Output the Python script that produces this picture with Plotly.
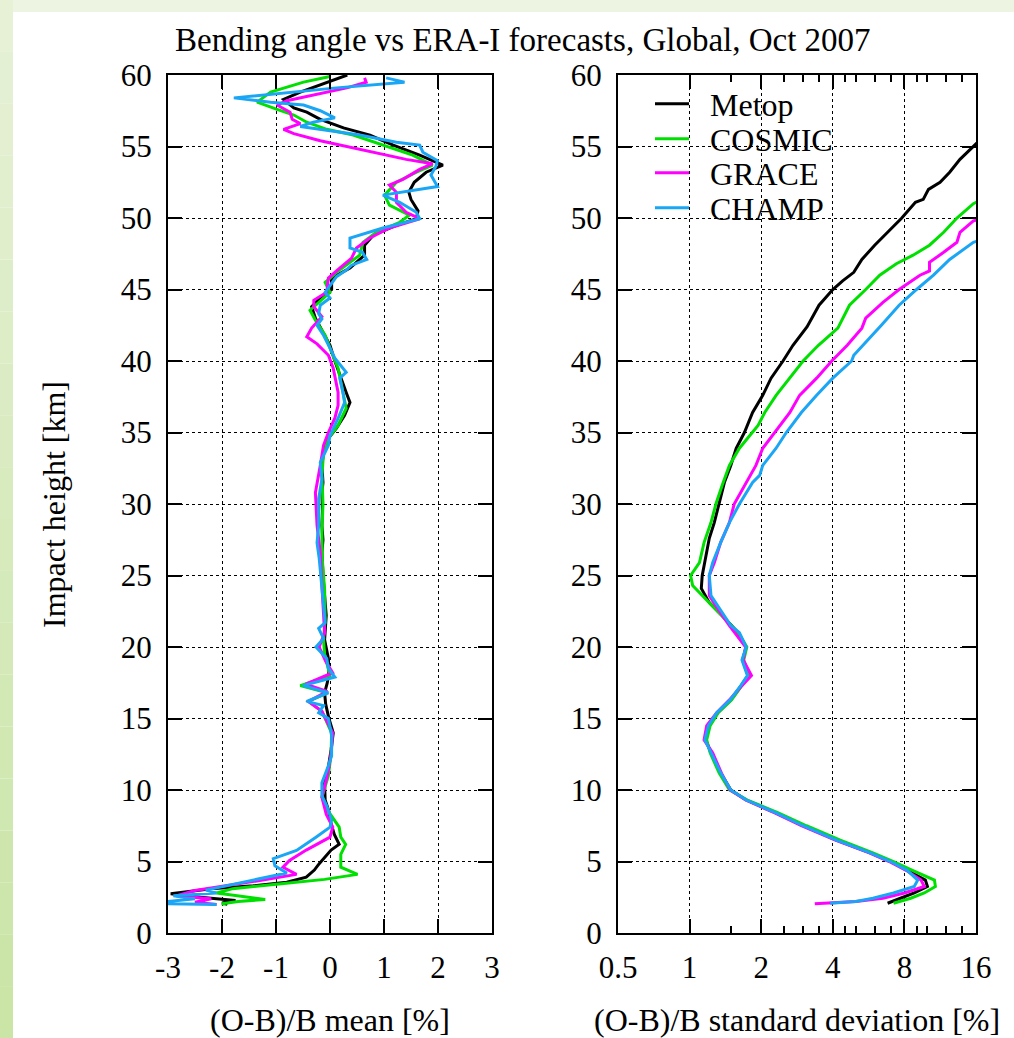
import math
import plotly.graph_objects as go

# ---------------- data ----------------
SERIES = ["Metop", "COSMIC", "GRACE", "CHAMP"]
COLORS = ["#000000", "#00e000", "#ff00ff", "#1aa6f5"]

# (O-B)/B mean [%]  -- heights [km] and values
METOP_MEAN_H = [60.0, 59.5, 58.8, 58.3, 57.7, 57.4, 56.9, 56.3, 55.8, 55.1, 54.4, 53.7, 53.2, 52.5, 51.8, 51.3,
                50.5, 49.95, 49.4, 48.8, 48.1, 47.4, 46.5, 45.8, 45.0, 44.4, 43.8, 43.0, 42.0, 41.1, 40.0, 39.0,
                37.8, 37.1, 36.2, 35.3, 34.6, 33.6, 32.7, 31.5, 30.8, 29.5, 28.5, 27.5, 26.6, 25.0, 23.5, 22.2,
                20.5, 19.2, 18.3, 17.5, 16.8, 16.0, 15.0, 14.0, 12.8, 11.6, 10.5, 9.3, 8.5, 7.9, 6.9, 6.2,
                5.8, 5.3, 4.85, 4.4, 3.9, 3.55, 3.3, 3.1, 2.75, 2.5, 2.27, 2.1, 2.0]
METOP_MEAN = [0.32, -0.06, -0.55, -0.86, -0.67, -0.43, -0.18, 0.25, 0.74, 1.17, 1.66, 2.09, 1.78, 1.56, 1.46, 1.5,
              1.63, 1.6, 1.17, 0.8, 0.64, 0.64, 0.37, 0.03, 0.03, -0.18, -0.34, -0.27, -0.12, 0.0, 0.09, 0.18,
              0.30, 0.37, 0.27, 0.12, -0.03, -0.12, -0.15, -0.13, -0.15, -0.14, -0.15, -0.13, -0.15, -0.13, -0.1, -0.07,
              -0.1, -0.03, -0.02, -0.05, -0.1, -0.08, -0.02, 0.06, 0.02, -0.03, -0.1, -0.09, -0.02, 0.0, 0.08, 0.17,
              0.02, -0.1, -0.2, -0.29, -0.44, -0.8, -1.42, -2.2, -2.95, -2.4, -1.75, -2.0, -1.9]

COSMIC_MEAN_H = [59.9, 59.5, 58.8, 58.1, 57.6, 57.2, 56.7, 56.2, 55.8, 55.1, 54.4, 53.7, 53.2, 52.5, 51.6, 50.9,
                 50.2, 49.7, 49.0, 48.3, 47.4, 46.2, 45.5, 44.8, 44.1, 43.55, 42.85, 41.8, 40.6, 39.5, 37.8, 36.7,
                 35.5, 34.6, 33.5, 32.0, 30.0, 28.0, 26.0, 24.0, 22.0, 20.5, 19.5, 18.0, 17.3, 16.8, 16.2, 15.5,
                 14.0, 12.5, 11.0, 9.5, 8.5, 7.9, 7.4, 6.7, 6.2, 5.5, 4.6, 4.1, 3.75, 3.45, 3.1, 2.8,
                 2.55, 2.35, 2.2, 2.05, 2.0]
COSMIC_MEAN = [0.0, -0.49, -1.1, -1.35, -0.98, -0.67, -0.43, -0.06, 0.43, 0.98, 1.53, 1.9, 1.6, 1.23, 1.01, 1.1,
               1.47, 1.29, 0.86, 0.61, 0.55, 0.12, -0.09, 0.0, -0.21, -0.37, -0.27, -0.09, 0.03, 0.15, 0.24, 0.30,
               0.15, -0.03, -0.12, -0.15, -0.13, -0.15, -0.14, -0.1, -0.09, -0.12, -0.1, 0.0, -0.55, -0.05, -0.4, -0.15,
               0.03, 0.02, -0.03, -0.15, -0.03, 0.08, 0.17, 0.2, 0.29, 0.2, 0.2, 0.51, -0.1, -0.9, -1.8, -2.1,
               -1.6, -1.2, -1.7, -2.0, -1.95]

GRACE_MEAN_H = [59.8, 59.5, 59.1, 58.7, 58.2, 57.9, 57.4, 56.9, 56.6, 56.2, 55.9, 55.4, 55.0, 54.5, 54.1, 53.8,
                53.4, 52.7, 52.3, 51.8, 51.1, 50.4, 49.95, 49.3, 48.6, 47.9, 47.2, 46.5, 45.8, 44.8, 44.25, 43.8,
                43.1, 42.3, 41.7, 41.2, 40.4, 39.5, 37.8, 36.9, 36.0, 35.0, 34.1, 32.7, 30.8, 28.5, 26.6, 25.0,
                23.0, 21.0, 20.0, 19.0, 18.2, 17.4, 16.9, 16.2, 15.5, 14.0, 12.5, 11.0, 9.5, 8.3, 7.4, 6.7,
                5.8, 5.07, 4.6, 4.1, 3.67, 3.3, 2.97, 2.6, 2.4, 2.15, 2.0]
GRACE_MEAN = [0.64, 0.67, 0.31, -0.18, -0.8, -0.98, -0.74, -0.7, -0.55, -0.86, -0.67, -0.18, 0.31, 0.92, 1.41, 1.9,
              1.66, 1.35, 1.1, 1.23, 1.23, 1.41, 1.66, 1.1, 0.74, 0.49, 0.4, 0.18, -0.03, -0.06, -0.3, -0.3,
              -0.15, -0.34, -0.43, -0.24, -0.03, 0.06, 0.15, 0.15, 0.09, -0.03, -0.12, -0.18, -0.27, -0.24, -0.18, -0.16,
              -0.13, -0.1, -0.2, -0.08, 0.05, -0.45, -0.05, -0.4, -0.15, 0.05, 0.02, -0.05, -0.15, -0.07, 0.05, 0.0,
              -0.44, -0.75, -0.87, -0.62, -1.3, -1.9, -2.5, -2.85, -2.2, -2.5, -2.1]

CHAMP_MEAN_H = [59.8, 59.5, 59.1, 58.7, 58.4, 58.1, 57.9, 57.5, 57.0, 56.7, 56.4, 56.1, 55.8, 55.3, 55.1, 54.6,
                54.0, 53.6, 53.0, 52.2, 51.6, 51.1, 50.4, 49.95, 49.3, 48.6, 47.9, 47.6, 47.1, 46.7, 46.35, 45.9,
                45.3, 44.8, 44.4, 43.9, 43.3, 42.95, 42.5, 41.8, 40.9, 40.2, 39.2, 38.8, 37.8, 37.1, 36.0, 34.8,
                34.1, 32.9, 31.75, 30.35, 28.5, 27.3, 26.2, 25.0, 23.4, 21.7, 21.3, 20.6, 20.0, 19.6, 19.2, 18.5,
                17.9, 17.3, 16.8, 16.2, 15.9, 15.4, 15.0, 13.8, 12.4, 11.7, 10.5, 9.6, 8.9, 7.9, 7.4, 6.7,
                5.77, 5.2, 4.7, 4.2, 3.3, 3.0, 2.8, 2.6, 2.4, 2.2, 2.05, 2.0]
CHAMP_MEAN = [1.04, 1.38, 0.12, -0.98, -1.78, -1.1, -0.49, -0.18, 0.09, -0.31, -0.55, 0.0, 0.55, 1.23, 1.66, 1.72,
              1.99, 1.96, 1.87, 1.99, 0.98, 1.29, 1.6, 1.66, 0.98, 0.37, 0.37, 0.6, 0.68, 0.4, 0.3, 0.12,
              0.0, -0.09, 0.0, -0.18, -0.21, -0.15, -0.24, -0.12, 0.0, 0.09, 0.3, 0.18, 0.24, 0.27, 0.15, 0.0,
              -0.03, -0.18, -0.15, -0.21, -0.21, -0.24, -0.2, -0.17, -0.13, -0.09, -0.21, -0.12, -0.26, -0.15, -0.06, -0.03,
              0.09, -0.5, -0.03, -0.43, -0.12, -0.21, -0.03, 0.03, 0.03, -0.03, -0.15, -0.15, -0.06, 0.03, 0.0, -0.26,
              -0.62, -1.05, -1.02, -0.8, -1.9, -2.3, -2.1, -2.9, -2.5, -3.0, -3.0, -2.1]

# (O-B)/B standard deviation [%]
METOP_STD_H = [55.6, 55.0, 54.1, 53.2, 52.5, 52.0, 51.3, 51.1, 50.0, 49.0, 48.1, 47.1, 46.2, 45.6, 45.0, 43.9,
               42.4, 41.1, 40.0, 38.8, 37.6, 36.4, 35.0, 33.9, 32.7, 31.5, 30.0, 28.7, 27.6, 26.4, 25.0, 24.1,
               23.1, 22.2, 21.0, 20.0, 19.1, 18.0, 17.3, 16.3, 15.4, 14.5, 13.5, 12.6, 11.2, 10.0, 9.3, 8.4,
               7.5, 6.5, 5.6, 5.0, 4.4, 3.7, 3.25, 2.8, 2.43, 2.08]
METOP_STD = [17.0, 15.6, 13.7, 12.4, 11.3, 10.1, 9.6, 8.9, 7.8, 6.8, 6.0, 5.3, 4.9, 4.4, 4.0, 3.5,
             3.12, 2.72, 2.47, 2.2, 2.03, 1.84, 1.7, 1.57, 1.49, 1.4, 1.33, 1.27, 1.21, 1.17, 1.13, 1.12,
             1.21, 1.37, 1.6, 1.73, 1.67, 1.76, 1.65, 1.49, 1.31, 1.21, 1.17, 1.23, 1.35, 1.49, 1.73, 2.31,
             3.0, 4.15, 5.75, 7.0, 8.2, 9.8, 10.0, 8.8, 7.7, 6.8]

COSMIC_STD_H = [51.3, 51.0, 50.0, 49.0, 48.1, 47.4, 46.8, 46.0, 45.0, 43.9, 42.3, 41.1, 40.0, 38.8, 37.6, 36.4,
                35.5, 33.9, 32.7, 31.3, 30.0, 28.7, 27.3, 25.9, 25.0, 24.3, 23.6, 22.7, 21.75, 21.0, 20.0, 19.1,
                18.0, 17.3, 16.3, 15.4, 14.5, 13.5, 12.6, 11.2, 10.0, 9.3, 8.4, 7.5, 6.5, 5.6, 5.0, 4.4,
                3.7, 3.25, 2.8, 2.43, 2.08]
COSMIC_STD = [17.0, 15.6, 13.3, 11.7, 10.2, 8.7, 7.4, 6.3, 5.5, 4.7, 4.2, 3.48, 3.0, 2.64, 2.31, 2.07,
              1.94, 1.62, 1.47, 1.37, 1.29, 1.23, 1.15, 1.1, 1.01, 1.03, 1.13, 1.27, 1.44, 1.6, 1.74, 1.69,
              1.78, 1.66, 1.5, 1.32, 1.22, 1.18, 1.22, 1.33, 1.47, 1.75, 2.36, 3.1, 4.3, 5.9, 7.2, 8.6,
              10.7, 10.8, 9.7, 8.5, 7.2]

GRACE_STD_H = [49.9, 49.8, 49.0, 48.3, 47.6, 46.9, 46.3, 46.0, 45.0, 44.1, 43.0, 42.3, 41.1, 40.0, 38.8, 37.6,
               36.4, 35.0, 33.9, 32.7, 31.5, 30.0, 28.7, 27.3, 25.9, 25.0, 23.6, 22.7, 21.5, 20.6, 20.0, 19.1,
               18.3, 18.0, 17.3, 16.3, 15.4, 14.5, 13.5, 12.6, 11.2, 10.0, 9.3, 8.4, 7.5, 6.5, 5.6, 5.0,
               4.4, 3.7, 3.25, 2.8, 2.43, 2.2, 2.05]
GRACE_STD = [16.5, 15.6, 13.7, 13.3, 11.7, 10.2, 10.2, 9.3, 7.6, 6.5, 5.5, 5.3, 4.6, 3.96, 3.42, 2.9,
             2.64, 2.28, 2.03, 1.9, 1.73, 1.54, 1.47, 1.35, 1.27, 1.21, 1.21, 1.31, 1.47, 1.62, 1.72, 1.68,
             1.78, 1.82, 1.66, 1.47, 1.3, 1.18, 1.15, 1.25, 1.36, 1.48, 1.72, 2.28, 2.95, 4.1, 5.7, 6.9,
             8.1, 9.4, 9.7, 8.0, 6.5, 5.0, 3.36]

CHAMP_STD_H = [48.4, 48.3, 47.1, 46.0, 45.0, 43.9, 42.5, 41.3, 40.4, 40.0, 38.8, 37.6, 36.4, 35.0, 33.9, 32.7,
               32.0, 31.5, 30.0, 28.7, 27.3, 25.9, 25.0, 23.6, 22.45, 21.5, 21.0, 20.0, 19.1, 18.0, 17.3, 16.3,
               15.4, 14.5, 13.5, 12.6, 11.2, 10.0, 9.3, 8.4, 7.5, 6.5, 5.6, 5.0, 4.4, 3.7, 3.25, 2.8,
               2.43, 2.2, 2.08]
CHAMP_STD = [16.3, 15.6, 12.4, 10.6, 9.0, 7.6, 6.4, 5.5, 4.9, 4.8, 4.0, 3.42, 2.95, 2.55, 2.31, 2.03,
             1.97, 1.84, 1.62, 1.47, 1.35, 1.25, 1.21, 1.23, 1.37, 1.49, 1.62, 1.73, 1.66, 1.75, 1.64, 1.48,
             1.3, 1.2, 1.16, 1.23, 1.35, 1.49, 1.73, 2.31, 3.0, 4.15, 5.75, 7.0, 8.2, 9.1, 8.8, 7.2,
             5.9, 5.0, 3.9]

MEAN_TICKS = [-3, -2, -1, 0, 1, 2, 3]
MEAN_TICK_TEXT = ["-3", "-2", "-1", "0", "1", "2", "3"]
STD_TICKS = [0.5, 1, 2, 4, 8, 16]
STD_TICK_TEXT = ["0.5", "1", "2", "4", "8", "16"]
STD_MINOR = [1.5, 2.5, 3, 3.5, 4.5, 5, 6, 7, 9, 10, 12, 14]
HEIGHT_TICKS = list(range(0, 61, 5))

TITLE = "Bending angle vs ERA-I forecasts, Global, Oct 2007"
XTITLE_L = "(O-B)/B mean [%]"
XTITLE_R = "(O-B)/B standard deviation [%]"
YTITLE = "Impact height [km]"

# ---------------- figure ----------------
W, H = 1014, 1038
FONT = "Liberation Serif"
TICK_SIZE = 31
TEXT_SIZE = 32
TITLE_SIZE = 33

def px(x):
    return x / W

def py(y):
    return 1 - y / H

mean_data = [(METOP_MEAN, METOP_MEAN_H), (COSMIC_MEAN, COSMIC_MEAN_H),
             (GRACE_MEAN, GRACE_MEAN_H), (CHAMP_MEAN, CHAMP_MEAN_H)]
std_data = [(METOP_STD, METOP_STD_H), (COSMIC_STD, COSMIC_STD_H),
            (GRACE_STD, GRACE_STD_H), (CHAMP_STD, CHAMP_STD_H)]
legend_ids = ["legend", "legend2", "legend3", "legend4"]
legend_y = [104, 139, 173, 208]

fig = go.Figure()
for name, col, (xv, hv) in zip(SERIES, COLORS, mean_data):
    fig.add_trace(go.Scatter(x=xv, y=hv, mode="lines", name=name, showlegend=False,
                             line=dict(color=col, width=3), xaxis="x", yaxis="y"))
for name, col, (xv, hv), lid in zip(SERIES, COLORS, std_data, legend_ids):
    fig.add_trace(go.Scatter(x=xv, y=hv, mode="lines", name="\u00a0\u00a0" + name, showlegend=True,
                             legend=lid, line=dict(color=col, width=3), xaxis="x2", yaxis="y2"))

axis_common = dict(
    showline=True, linewidth=2, linecolor="black", mirror="ticks",
    ticks="inside", ticklen=14, tickwidth=2, tickcolor="black",
    showgrid=True, gridcolor="black", gridwidth=1, griddash="3px,3px",
    zeroline=False, tickfont=dict(family=FONT, size=TICK_SIZE, color="black"),
    automargin=False,
)

YDOM = [py(933), py(75)]
layout = dict(
    width=W, height=H, autosize=False,
    margin=dict(l=0, r=0, t=0, b=0),
    paper_bgcolor="white", plot_bgcolor="white",
    font=dict(family=FONT, size=TEXT_SIZE, color="black"),
    xaxis=dict(domain=[px(168), px(492)], range=[-3, 3], tickmode="array",
               tickvals=MEAN_TICKS, ticktext=MEAN_TICK_TEXT, anchor="y",
               ticklabelstandoff=6, **axis_common),
    yaxis=dict(domain=YDOM, range=[0, 60], tickmode="array", tickvals=HEIGHT_TICKS,
               anchor="x", ticklabelstandoff=8, **axis_common),
    xaxis2=dict(domain=[px(618), px(976)], type="log",
                range=[math.log10(0.5), math.log10(16)], tickmode="array",
                tickvals=STD_TICKS, ticktext=STD_TICK_TEXT, anchor="y2",
                ticklabelstandoff=6,
                minor=dict(tickmode="array", tickvals=STD_MINOR, ticks="inside",
                           ticklen=7, tickwidth=2, tickcolor="black", showgrid=False),
                **axis_common),
    yaxis2=dict(domain=YDOM, range=[0, 60], tickmode="array", tickvals=HEIGHT_TICKS,
                anchor="x2", ticklabelstandoff=8, **axis_common),
    showlegend=True,
)
for lid, ly in zip(legend_ids, legend_y):
    layout[lid] = dict(x=px(650), y=py(ly), xanchor="left", yanchor="middle",
                       bgcolor="rgba(0,0,0,0)", borderwidth=0, itemwidth=34,
                       font=dict(family=FONT, size=TEXT_SIZE, color="black"))
fig.update_layout(**layout)

# white patch behind legend (covers grid, below traces)
fig.add_shape(type="rect", xref="paper", yref="paper", layer="between",
              x0=px(621), x1=px(836), y0=py(224), y1=py(77),
              fillcolor="white", line=dict(width=0))

# decorative green page border
fig.add_shape(type="rect", xref="paper", yref="paper", layer="below",
              x0=0, x1=1, y0=py(12), y1=1, fillcolor="rgb(237,245,226)", line=dict(width=0))
nstrip = 20
for i in range(nstrip):
    t = i / (nstrip - 1)
    r = int(230 - 28 * t)
    g = int(241 - 12 * t)
    b = int(214 - 48 * t)
    fig.add_shape(type="rect", xref="paper", yref="paper", layer="below",
                  x0=0, x1=px(13), y0=py(H * (i + 1) / nstrip), y1=py(H * i / nstrip),
                  fillcolor=f"rgb({r},{g},{b})", line=dict(width=0))

annots = [
    dict(text=TITLE, x=px(523), y=py(40), textangle=0, size=TITLE_SIZE),
    dict(text=XTITLE_L, x=px(330), y=py(1020), textangle=0, size=TEXT_SIZE),
    dict(text=XTITLE_R, x=px(797), y=py(1020), textangle=0, size=TEXT_SIZE),
    dict(text=YTITLE, x=px(54), y=py(505), textangle=-90, size=TEXT_SIZE),
]
for a in annots:
    fig.add_annotation(text=a["text"], x=a["x"], y=a["y"], xref="paper", yref="paper",
                       xanchor="center", yanchor="middle", showarrow=False,
                       textangle=a["textangle"],
                       font=dict(family=FONT, size=a["size"], color="black"))

fig.write_html("out.html", config={"displayModeBar": False},
               post_script="document.body.style.margin='0';document.body.style.overflow='hidden';")
